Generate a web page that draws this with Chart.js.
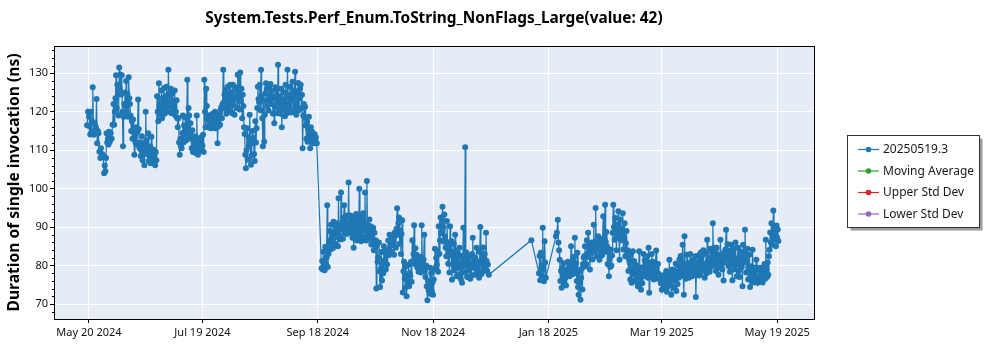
<!DOCTYPE html>
<html><head><meta charset="utf-8">
<script src="https://cdn.jsdelivr.net/npm/chart.js@4.4.1/dist/chart.umd.min.js"></script>
<style>html,body{margin:0;padding:0;background:#fff;}#wrap{width:1000px;height:350px;position:relative;}</style>
</head><body><div id="wrap"><canvas id="c" width="1000" height="350"></canvas></div>
<script>
const chartTitle = 'System.Tests.Perf_Enum.ToString_NonFlags_Large(value: 42)';
const yAxisTitle = 'Duration of single invocation (ns)';
const seriesNames = ['20250519.3', 'Moving Average', 'Upper Std Dev', 'Lower Std Dev'];
const seriesColors = ['#1f77b4', '#2ca02c', '#d62728', '#9467bd'];
const tickDates = ['2024-05-20', '2024-07-19', '2024-09-18', '2024-11-18', '2025-01-18', '2025-03-19', '2025-05-19'];
const yTicks = [70, 80, 90, 100, 110, 120, 130];
const monthNames = ['Jan','Feb','Mar','Apr','May','Jun','Jul','Aug','Sep','Oct','Nov','Dec'];

const runDates = [
'2024-05-19','2024-05-20','2024-05-21','2024-05-22','2024-05-23','2024-05-24','2024-05-25','2024-05-26','2024-05-27','2024-05-28','2024-05-29','2024-05-30','2024-05-31',
'2024-06-01','2024-06-02','2024-06-03','2024-06-04','2024-06-05','2024-06-06','2024-06-07','2024-06-08','2024-06-09','2024-06-10','2024-06-11','2024-06-12','2024-06-13','2024-06-14','2024-06-15','2024-06-16','2024-06-17','2024-06-18','2024-06-19','2024-06-20','2024-06-21','2024-06-22','2024-06-23','2024-06-24','2024-06-25','2024-06-26','2024-06-27','2024-06-28','2024-06-29','2024-06-30',
'2024-07-01','2024-07-02','2024-07-03','2024-07-04','2024-07-05','2024-07-06','2024-07-07','2024-07-08','2024-07-09','2024-07-10','2024-07-11','2024-07-12','2024-07-13','2024-07-14','2024-07-15','2024-07-16','2024-07-17','2024-07-18','2024-07-19','2024-07-20','2024-07-21','2024-07-22','2024-07-23','2024-07-24','2024-07-25','2024-07-26','2024-07-27','2024-07-28','2024-07-29','2024-07-30','2024-07-31',
'2024-08-01','2024-08-02','2024-08-03','2024-08-04','2024-08-05','2024-08-06','2024-08-07','2024-08-08','2024-08-09','2024-08-10','2024-08-11','2024-08-12','2024-08-13','2024-08-14','2024-08-15','2024-08-16','2024-08-17','2024-08-18','2024-08-19','2024-08-20','2024-08-21','2024-08-22','2024-08-23','2024-08-24','2024-08-25','2024-08-26','2024-08-27','2024-08-28','2024-08-29','2024-08-30','2024-08-31',
'2024-09-01','2024-09-02','2024-09-03','2024-09-04','2024-09-05','2024-09-06','2024-09-07','2024-09-08','2024-09-09','2024-09-10','2024-09-11','2024-09-12','2024-09-13','2024-09-14','2024-09-15','2024-09-16','2024-09-17','2024-09-20','2024-09-21','2024-09-22','2024-09-23','2024-09-24','2024-09-25','2024-09-26','2024-09-27','2024-09-28','2024-09-29','2024-09-30',
'2024-10-01','2024-10-02','2024-10-03','2024-10-04','2024-10-05','2024-10-06','2024-10-07','2024-10-08','2024-10-09','2024-10-10','2024-10-11','2024-10-12','2024-10-13','2024-10-14','2024-10-15','2024-10-16','2024-10-17','2024-10-18','2024-10-19','2024-10-20','2024-10-21','2024-10-22','2024-10-23','2024-10-24','2024-10-25','2024-10-26','2024-10-27','2024-10-28','2024-10-29','2024-10-30','2024-10-31',
'2024-11-01','2024-11-02','2024-11-03','2024-11-04','2024-11-05','2024-11-06','2024-11-07','2024-11-08','2024-11-09','2024-11-10','2024-11-11','2024-11-12','2024-11-13','2024-11-14','2024-11-15','2024-11-16','2024-11-17','2024-11-18','2024-11-19','2024-11-20','2024-11-21','2024-11-22','2024-11-23','2024-11-24','2024-11-25','2024-11-26','2024-11-27','2024-11-28','2024-11-29','2024-11-30',
'2024-12-01','2024-12-02','2024-12-03','2024-12-04','2024-12-05','2024-12-06','2024-12-07','2024-12-08','2024-12-09','2024-12-10','2024-12-11','2024-12-12','2024-12-13','2024-12-14','2024-12-15','2024-12-16','2024-12-17',
'2025-01-09','2025-01-13','2025-01-14','2025-01-15','2025-01-16','2025-01-22','2025-01-23','2025-01-24','2025-01-25','2025-01-26','2025-01-27','2025-01-28','2025-01-29','2025-01-30','2025-01-31',
'2025-02-01','2025-02-02','2025-02-03','2025-02-04','2025-02-05','2025-02-06','2025-02-07','2025-02-08','2025-02-09','2025-02-10','2025-02-11','2025-02-12','2025-02-13','2025-02-14','2025-02-15','2025-02-16','2025-02-17','2025-02-18','2025-02-19','2025-02-20','2025-02-21','2025-02-22','2025-02-23','2025-02-24','2025-02-25','2025-02-26','2025-02-27','2025-02-28',
'2025-03-01','2025-03-02','2025-03-03','2025-03-04','2025-03-05','2025-03-06','2025-03-07','2025-03-08','2025-03-09','2025-03-10','2025-03-11','2025-03-12','2025-03-13','2025-03-14','2025-03-15','2025-03-16','2025-03-17','2025-03-18','2025-03-19','2025-03-20','2025-03-21','2025-03-22','2025-03-23','2025-03-24','2025-03-25','2025-03-26','2025-03-27','2025-03-28','2025-03-29','2025-03-30','2025-03-31',
'2025-04-01','2025-04-02','2025-04-03','2025-04-04','2025-04-05','2025-04-06','2025-04-07','2025-04-08','2025-04-09','2025-04-10','2025-04-11','2025-04-12','2025-04-13','2025-04-14','2025-04-15','2025-04-16','2025-04-17','2025-04-18','2025-04-19','2025-04-20','2025-04-21','2025-04-22','2025-04-23','2025-04-24','2025-04-25','2025-04-26','2025-04-27','2025-04-28','2025-04-29','2025-04-30',
'2025-05-01','2025-05-02','2025-05-03','2025-05-04','2025-05-05','2025-05-06','2025-05-07','2025-05-08','2025-05-09','2025-05-10','2025-05-11','2025-05-12','2025-05-13','2025-05-14','2025-05-15','2025-05-16','2025-05-17','2025-05-18','2025-05-19'
];

const runValues = [
// May 2024 (19-31)
[116.5,120],[118.7,116.2,114.1],[120,115,117.5],[126.4,114],[117,114.6,116],[123.3,111.8,115],[114.4,109.6],[108,110.5,108.2],[109,108.6],[104,106,104.5],[108,114.4,112],[113,111.5,114.8],[112.2,114.4],
// June 2024
[113,116.6],[122,116.6,120],[123.5,129.5,121],[127,124.5,119],[131.5,126,129.7],[124.5,129.5,120],[111,118.7,122],[125,121.5,128],[120,124.6,118.7],[129,123.5,122],
[119,115,117.6],[113,118,114.6],[108.8,114,112],[116,111.5,114.8],[123.2,115.5,110.6],[112,108.5,110],[113.6,107.4,111.2],[109.5,106.1,112],[120,112.5,109],[110.5,114.4,107.2],
[108.5,111,106.6],[113.5,109,107.5],[110.2,106.8,108.5],[106.1,109.5,107.4],[124,120,117.5],[127.4,122,119.5],[121,125.5,118.3],[123.5,120.5,126.2],[119.5,124,121],[126.5,122.5,120],
// July 2024
[130.9,124.5,121.5],[122,126,119.6],[124.7,120.2,122.8],[121.4,125.5,119],[120,123,118.3],[116,118.3,112],[108.8,113,111],[110.5,114.5,119],[112,116.4,114],[118.5,112.5,116],
[128.3,114.5,121],[119,113.2,117],[113,110.5,115.2],[109.5,112.4,111],[110.6,113.6,109.2],[119,111,108.8],[112.5,109.6,111.5],[110,113.4,110.8],[111.2,114,109.5],[128.3,120,116],
[126,121.5,118],[116,119,117],[119,115.7,118.5],[117.3,119.5,115.8],[118.4,116.2,120],[115.7,117.7,119],[111.8,117,116.3],[119.2,116.6,120.5],[121.2,118.3,122],[130.9,122.4,124.5],[120.8,125.8,119.5],
// August 2024
[122.5,126.5,121],[124.8,120.2,127],[122,125,119.6],[127,121.8,124],[119.2,123.5,126.4],[125.6,121,129.6],[129.6,123,120.6],[130.2,122.8,126],[118.3,124.4,121.5],[116,114.2,108.8],
[105.3,110,115.7],[107.5,113.5,111],[119.2,112.6,106.2],[108.6,115,111.8],[113.2,109,107.2],[117.5,112,115.7],[121,126.5,123.3],[122.5,127,120.4],[130.9,124,118.3],[111,122.8,112.2],
[119.2,124.8,127.4],[126,121.5,123],[120.3,126.5,124.2],[127.2,122,125.4],[123.5,119.5,121.8],[117,124,126.4],[121.2,125.8,119.6],[132.2,122.5,120],[124,119.5,126],[116,121.8,123.2],[120.5,125,118.8],
// September 2024
[127,122,119.6],[130.9,124.3,121],[121.5,126.5,123],[119.8,124.5,127.8],[123.8,120.5,125.5],[130.4,122,119.2],[125,121.2,127.5],[120.4,123.6,126],[127,121,124.4],[110.5,119,122],
[118.5,121.3,116.4],[113,117.4,112.2],[115.6,118.7,113.8],[110.5,116,112.6],[114.8,112,113.6],[111.8,114.2,112.8],[113.4,111.8],
[79.3,81.2,79],[83.6,80,78.8],[84.9,80.5,82],[95.7,79.6,83],[86.5,89,84.2],[90.6,86,88.5],[84.5,91.4,87.2],[89,85.6,90.2],[91,87.5,85],[97.5,88,90.5],[86.8,99,89.5],
// October 2024
[91.4,87,92.4],[95.7,88.5,90],[93,88.2,91],[89.5,101.6,90.5],[88.5,93,91.6],[90,87.2,92.5],[84.6,89,91],[88.2,93.4,86.5],[92,87.5,90.3],[100,88.6,92.5],
[86.3,91.8,89],[93.6,87.4,90.8],[99,89.2,86.5],[102,90.5,88],[87,92,89.4],[90.2,85.5,88.3],[86.5,89.8,84],[88.5,84.5,86.6],[74,85.3,81],[82,86,78.5],
[74.4,79.2,83.5],[76.1,80.5,78],[85,81.4,83.8],[79,82.6,80.3],[84,86.5,82.7],[88,83.2,85.2],[83.6,87.3,85.5],[86.4,82.8,88.5],[87.8,84.6,89.6],[94.9,88,91],[92.5,85.7,89.2],
// November 2024
[83,88.2,91.8],[73,78.5,81],[76.6,74.2,79.8],[72,77.4,75.3],[80.2,74.6,78],[77.3,81,75.8],[86.6,80.6,83],[90.5,81.4,84.5],[80.2,82.8,79.5],[82,78.4,80.6],
[79.6,82.3,78.2],[90.5,80.8,79],[81.6,88,78.6],[77,80,74.6],[71,76,73.5],[74.2,79.4,72.6],[78,73.2,75.6],[72.4,76.4,79],[84.4,79.5,82],[80.2,83.6,78.4],
[90.2,83,86.5],[92.5,88.4,91.4],[95.3,90,86.2],[93.3,87.5,84.6],[82.4,91.6,86],[80.5,84.8,78.2],[90.2,82.6,86.4],[76.3,83.6,80.1],[85.7,78.7,88],[81.2,77.2,84],
// December 2024
[79.5,83,77.6],[84.6,80,76.5],[82.5,75.5,79.8],[89.8,81,78.2],[110.8,80.2,83.4],[77,81.8,79],[78.8,82.4,76.6],[80.6,77.4,83],[87.2,79.4,81.2],[77.6,82,79.5],
[84.6,78.2,80.4],[81,76.8,83.5],[90,80.2,77.8],[82.2,78.6,84.7],[79.2,83,80.6],[88.5,81.2,78.5],[80.3,77.6],
// January 2025
[86.6],[78,82.5,76.2],[83.3,77.5,80],[89.8,79,75.9],[86.3,80.8,76.8],[87.6,88.5],[91.9,86,84],[81.5,76,78.6],[74.2,79.5,77],[80.6,75.5,78.2],
[76.8,74.8,79],[78.8,81,77.4],[80,77.2,79.6],[85,78.4,81.2],[80.2,77.8,82.3],
// February 2025
[87.2,79,80.6],[76,83.3,74.4],[72.4,78.6,75.5],[71.1,76.8,79.2],[73.8,80.4,82],[82.5,85,79.8],[80.4,86.6,83],[88.5,82.2,84.5],[79,85.4,83.2],[86,81.6,84.8],
[90.6,83.5,86.2],[95,85,82.4],[84.8,87.6,82.2],[81.5,86.4,84],[85.3,82.6,87],[92.8,84.2,83.5],[95.8,86.2,88.7],[85,80.4,83.6],[77.2,81.6,79.6],[84.2,80,82.6],
[88.5,95.8,90],[86.7,92.4,89],[84,90.6,87.2],[94.1,88.4,81.5],[92,86.6,89.6],[88.5,93.6,84.2],[87.2,91,82.4],[85.8,89,83],
// March 2025
[84,78.6,81.5],[80.7,76.4,82.8],[75.5,79,83.7],[77.8,81.2,76.2],[80.2,75.8,78.4],[78.9,74.6,77.2],[83.7,76,79.5],[73.7,78,75.4],[79.5,83,77.2],[81.4,77.8,80.2],
[78.6,82.4,76.8],[84.6,72.9,79.4],[80.8,77.2,83],[78.4,81,76.4],[79.8,77,80.6],[83.9,78.2,76.6],[80.4,77.8],[77.2,75.4],[73.7,76.5],[77.5,74.4],
[75.8,78.6,73.2],[74.5,77.4,76],[81.5,75,78.2],[72.4,76.6,79],[77,74.2,78.6],[76.2,80.5,73.4],[78.4,75.2,80],[76.8,81.6,77.2],[82.5,78,79.4],[85.4,77.4,72.4],[87.6,80.2,76.6],
// April 2025
[79.2,82.8,77.6],[80.6,76.8,79.8],[83,78.6,80.4],[77.2,81.4,79],[80,77.8,82.4],[71.8,78.4,80.6],[79.6,82.6,77.4],[81.2,77.6,83.4],[78.6,82.6,80.4],[84,79.2,76.8],
[80.4,83.2,78],[86.7,81,79.4],[82,78.4,84.4],[79.6,83.6,81],[91,82.4,84.6],[80.2,83.8,78.6],[84.6,79.4,81.6],[77.6,82.8,80.2],[86.7,80.6,83],[79,82.2,76.1],
[83.4,80.8,84.2],[89.3,81.6,85.6],[82.6,79.8,83.8],[78.4,83.2,85.4],[80.6,76.2,82.8],[84.4,79,81.2],[86,80.4,77.2],[81.8,84.6,78.6],[77,82.2,80.4],[83.6,79.6,74.6],
// May 2025
[85.4,80.8,82],[89.3,83.2,78.2],[81.4,84.4,76.4],[79.2,82.8,74.4],[77.4,79.8,76],[84.1,77.2,75.6],[78.6,76.2,79.4],[81.5,77,75.5],[76.8,78.8,75.8],[79.4,76.4,78],
[77.6,75.6,79.2],[78.2,80.4,76.6],[86.7,79,77],[80.8,77.6,82.4],[84.1,88.6,86],[91,85.4,87.8],[94.3,86.8,89.5],[88.2,85,90.4],[87.2,89.4,86.4]
];

const xRangeStart = '2024-05-01';
const xRangeEnd = '2025-06-07';
const yRange = [66.1, 137.1];

function dayNum(s) {
  const p = s.split('-').map(Number);
  return Date.UTC(p[0], p[1] - 1, p[2]) / 86400000;
}
function fmtDay(v) {
  const d = new Date(Math.round(v) * 86400000);
  return monthNames[d.getUTCMonth()] + ' ' + d.getUTCDate() + ' ' + d.getUTCFullYear();
}

const mainPoints = [];
runDates.forEach((ds, k) => {
  const vals = runValues[k] || [];
  const base = dayNum(ds);
  vals.forEach((v, i) => mainPoints.push({ x: base + i / vals.length, y: v }));
});

const FONT = '"Noto Sans", "Open Sans", sans-serif';
Chart.defaults.font.family = FONT;
Chart.defaults.color = '#000';

const plotDecor = {
  id: 'plotDecor',
  beforeDraw(chart) {
    const a = chart.chartArea, ctx = chart.ctx;
    ctx.save();
    ctx.fillStyle = '#E5ECF6';
    ctx.fillRect(a.left, a.top, a.right - a.left, a.bottom - a.top);
    ctx.restore();
  },
  afterDraw(chart) {
    const a = chart.chartArea, ctx = chart.ctx;
    ctx.save();
    // title centred over plot area
    ctx.fillStyle = '#000';
    ctx.font = 'bold 15.4px ' + FONT;
    ctx.textAlign = 'center';
    ctx.textBaseline = 'middle';
    ctx.fillText(chartTitle, (a.left + a.right) / 2, 19);
    ctx.textAlign = 'left';
    ctx.strokeStyle = '#000';
    ctx.lineWidth = 1;
    ctx.strokeRect(Math.round(a.left) + 0.5, Math.round(a.top) + 0.5, Math.round(a.right - a.left), Math.round(a.bottom - a.top));
    // minor ticks on y
    const ys = chart.scales.y;
    ctx.beginPath();
    for (let v = Math.ceil(ys.min / 2) * 2; v <= ys.max; v += 2) {
      if (v % 10 === 0) continue;
      const py = Math.round(ys.getPixelForValue(v)) + 0.5;
      ctx.moveTo(Math.round(a.left) - 2, py);
      ctx.lineTo(Math.round(a.left), py);
    }
    ctx.stroke();
    // legend
    const lx = 847.5, ly = 135.5, lw = 132, lh = 92;
    ctx.fillStyle = '#9a9a9a';
    ctx.fillRect(lx + 3, ly + 3, lw, lh);
    ctx.fillStyle = '#fff';
    ctx.fillRect(lx, ly, lw, lh);
    ctx.strokeStyle = '#333';
    ctx.strokeRect(lx, ly, lw, lh);
    ctx.font = '12px ' + FONT;
    ctx.textBaseline = 'middle';
    chart.data.datasets.forEach((ds, i) => {
      const cy = 149.5 + i * 21.5;
      ctx.strokeStyle = ds.borderColor;
      ctx.lineWidth = 1.2;
      ctx.beginPath();
      ctx.moveTo(858, cy); ctx.lineTo(879, cy);
      ctx.stroke();
      ctx.fillStyle = ds.borderColor;
      ctx.beginPath();
      ctx.arc(868.5, cy, 2.8, 0, Math.PI * 2);
      ctx.fill();
      ctx.fillStyle = '#1a1a1a';
      ctx.fillText(ds.label, 883, cy + 0.5);
    });
    ctx.restore();
  }
};

new Chart(document.getElementById('c'), {
  type: 'line',
  data: {
    datasets: seriesNames.map((name, i) => ({
      label: name,
      data: i === 0 ? mainPoints : [],
      borderColor: seriesColors[i],
      backgroundColor: seriesColors[i],
      borderWidth: 1.2,
      pointRadius: 3,
      pointBorderWidth: 0,
      pointBackgroundColor: seriesColors[i],
      tension: 0,
      fill: false
    }))
  },
  options: {
    responsive: false,
    animation: false,
    layout: { padding: { left: 0, right: 186, top: 46, bottom: 0 } },
    plugins: {
      legend: { display: false },
      tooltip: { enabled: false },
      title: { display: false }
    },
    scales: {
      x: {
        type: 'linear',
        min: dayNum(xRangeStart) + 0.5,
        max: dayNum(xRangeEnd) + 0.5,
        afterBuildTicks: (s) => { s.ticks = tickDates.map(d => ({ value: dayNum(d) })); },
        afterFit: (s) => { s.height = 31; },
        ticks: { callback: (v) => fmtDay(v), font: { size: 11 }, color: '#111', padding: 3, maxRotation: 0, autoSkip: false },
        grid: { color: '#ffffff', lineWidth: 1, tickLength: 4, tickColor: '#000' },
        border: { display: false }
      },
      y: {
        type: 'linear',
        min: yRange[0], max: yRange[1],
        afterBuildTicks: (s) => { s.ticks = yTicks.map(v => ({ value: v })); },
        afterFit: (s) => { s.width = 54; },
        ticks: { font: { size: 11 }, color: '#111', padding: 2 },
        grid: { color: '#ffffff', lineWidth: 1, tickLength: 4, tickColor: '#000' },
        border: { display: false },
        title: { display: true, text: yAxisTitle, font: { size: 15.6, weight: 'bold', family: FONT }, color: '#000', padding: { top: 5, bottom: 0 } }
      }
    }
  },
  plugins: [plotDecor]
});
</script>
</body></html>
